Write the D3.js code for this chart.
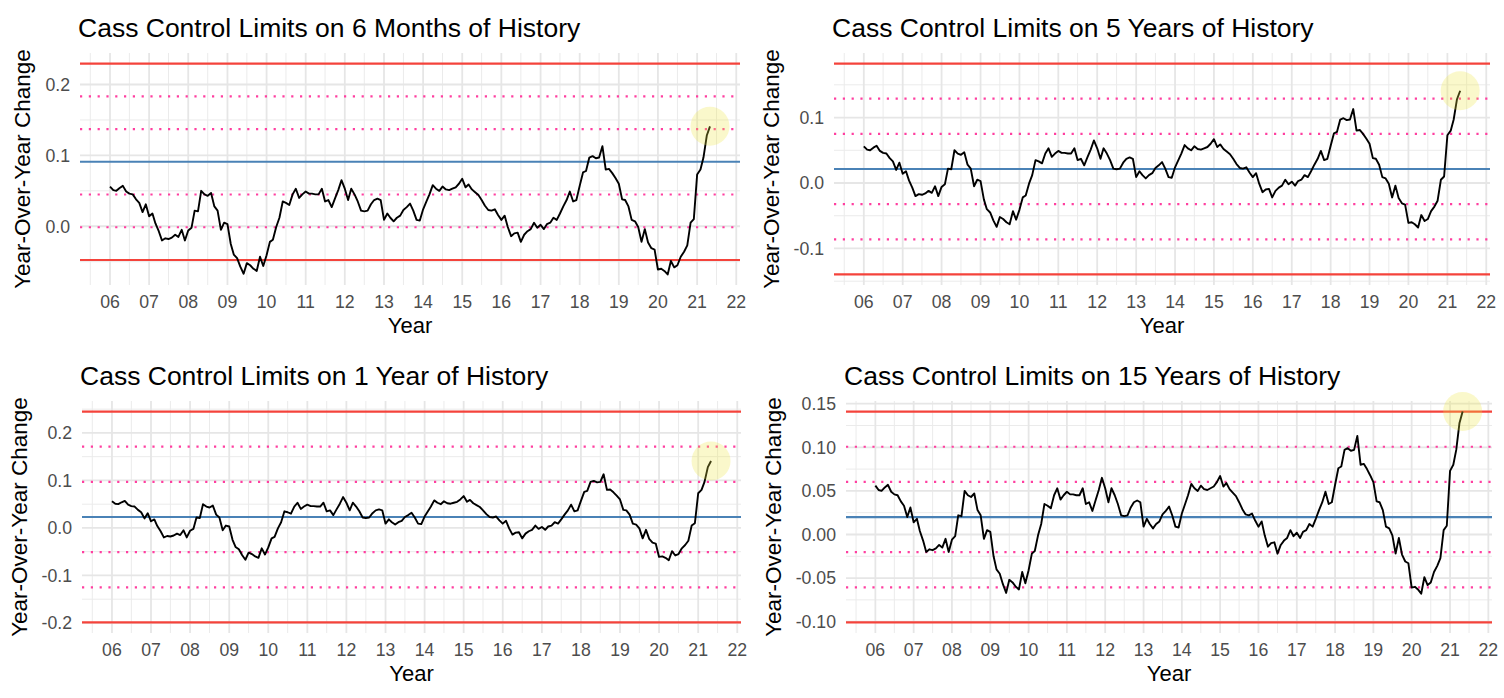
<!DOCTYPE html>
<html>
<head>
<meta charset="utf-8">
<script src="https://cdn.jsdelivr.net/npm/d3@7"></script>
<style>
  body { margin: 0; background: #fff; }
  svg { display: block; font-family: "Liberation Sans", Arial, Helvetica, sans-serif; }
</style>
</head>
<body>
<script>
// Cass shipments, year-over-year change, monthly from Jan 2006 to May 2021
const startDate = new Date(2006, 0, 1);
const yoy = [
  0.056, 0.051, 0.050, 0.054, 0.057, 0.049, 0.046, 0.045, 0.038, 0.033, 0.020, 0.031,
  0.014, 0.018, 0.004, -0.007, -0.020, -0.017, -0.018, -0.016, -0.012, -0.015, -0.005, -0.020,
  -0.006, -0.002, 0.022, 0.021, 0.050, 0.045, 0.043, 0.047, 0.028, 0.022, -0.005, 0.005,
  0.003, -0.025, -0.040, -0.045, -0.057, -0.067, -0.052, -0.055, -0.060, -0.063, -0.043, -0.056,
  -0.041, -0.022, -0.019, -0.001, 0.012, 0.035, 0.033, 0.030, 0.045, 0.053, 0.040, 0.045,
  0.049, 0.046, 0.046, 0.045, 0.045, 0.053, 0.035, 0.037, 0.027, 0.039, 0.051, 0.065,
  0.053, 0.037, 0.053, 0.045, 0.035, 0.022, 0.021, 0.022, 0.031, 0.037, 0.039, 0.037,
  0.009, 0.018, 0.012, 0.007, 0.012, 0.015, 0.023, 0.027, 0.032, 0.022, 0.009, 0.008,
  0.024, 0.035, 0.045, 0.058, 0.053, 0.050, 0.056, 0.052, 0.051, 0.053, 0.055, 0.060,
  0.067, 0.055, 0.059, 0.052, 0.048, 0.044, 0.037, 0.029, 0.023, 0.022, 0.024, 0.016,
  0.009, 0.015, -0.001, -0.014, -0.010, -0.009, -0.022, -0.012, -0.007, -0.004, 0.005, -0.002,
  0.002, -0.004, 0.003, 0.005, 0.012, 0.009, 0.018, 0.028, 0.037, 0.049, 0.035, 0.037,
  0.057, 0.076, 0.078, 0.097, 0.099, 0.096, 0.097, 0.113, 0.080, 0.081, 0.075, 0.068,
  0.060, 0.038, 0.037, 0.028, 0.009, 0.007, -0.001, -0.022, -0.004, -0.023, -0.031, -0.033,
  -0.061, -0.060, -0.063, -0.068, -0.049, -0.058, -0.055, -0.043, -0.036, -0.027, 0.005, 0.010,
  0.073, 0.080, 0.097, 0.128, 0.141
];

// one entry per panel: top-left, top-right, bottom-left, bottom-right
const titles = [
  "Cass Control Limits on 6 Months of History",
  "Cass Control Limits on 5 Years of History",
  "Cass Control Limits on 1 Year of History",
  "Cass Control Limits on 15 Years of History"
];
const means = [0.091, 0.0214, 0.023, 0.020];
const sds = [0.0462, 0.0537, 0.074, 0.0403];
const yTicks = [
  [0, 0.1, 0.2],
  [-0.1, 0, 0.1],
  [-0.2, -0.1, 0, 0.1, 0.2],
  [-0.10, -0.05, 0, 0.05, 0.10, 0.15]
];
const yTickLabels = [
  ["0.0", "0.1", "0.2"],
  ["-0.1", "0.0", "0.1"],
  ["-0.2", "-0.1", "0.0", "0.1", "0.2"],
  ["-0.10", "-0.05", "0.00", "0.05", "0.10", "0.15"]
];
const xYears = [2006, 2007, 2008, 2009, 2010, 2011, 2012, 2013, 2014, 2015, 2016, 2017, 2018, 2019, 2020, 2021, 2022];
const xTickLabels = ["06", "07", "08", "09", "10", "11", "12", "13", "14", "15", "16", "17", "18", "19", "20", "21", "22"];

const width = 1504;
const height = 698;

const panels = [
  { L: 80, R: 740, T: 53, B: 285 },
  { L: 834, R: 1490, T: 53, B: 285 },
  { L: 82, R: 741, T: 401, B: 633 },
  { L: 846, R: 1492, T: 401, B: 633 }
];

const svg = d3.select("body")
  .append("svg")
  .attr("width", width)
  .attr("height", height);

const series = yoy.map((v, i) => ({ date: d3.timeMonth.offset(startDate, i), value: v }));

panels.forEach((p, k) => {
  const g = svg.append("g");

  // control limits: mean and +-1, 2, 3 sd
  const limits = [-3, -2, -1, 0, 1, 2, 3].map(s => ({ s: s, y: means[k] + s * sds[k] }));

  // ggplot style 5% expansion
  const xe = d3.extent(series, d => d.date).map(d => +d);
  const xpad = (xe[1] - xe[0]) * 0.05;
  const x = d3.scaleTime()
    .domain([new Date(xe[0] - xpad), new Date(xe[1] + xpad)])
    .range([p.L, p.R]);

  const ye = d3.extent(yoy.concat(limits.map(l => l.y)));
  const ypad = (ye[1] - ye[0]) * 0.05;
  const y = d3.scaleLinear()
    .domain([ye[0] - ypad, ye[1] + ypad])
    .range([p.B, p.T]);

  // minor grid
  const step = yTicks[k][1] - yTicks[k][0];
  const yMinor = [yTicks[k][0] - step / 2].concat(yTicks[k].map(t => t + step / 2))
    .filter(v => v > y.domain()[0] && v < y.domain()[1]);
  const xMinor = [2005].concat(xYears).map(yr => new Date(yr, 6, 1))
    .filter(d => d > x.domain()[0] && d < x.domain()[1]);

  g.selectAll(".ymin").data(yMinor).enter().append("line")
    .attr("x1", p.L).attr("x2", p.R)
    .attr("y1", d => y(d)).attr("y2", d => y(d))
    .attr("stroke", "#ebebeb").attr("stroke-width", 1);
  g.selectAll(".xmin").data(xMinor).enter().append("line")
    .attr("x1", d => x(d)).attr("x2", d => x(d))
    .attr("y1", p.T).attr("y2", p.B)
    .attr("stroke", "#ebebeb").attr("stroke-width", 1);

  // major grid
  g.selectAll(".ymaj").data(yTicks[k]).enter().append("line")
    .attr("x1", p.L).attr("x2", p.R)
    .attr("y1", d => y(d)).attr("y2", d => y(d))
    .attr("stroke", "#e6e6e6").attr("stroke-width", 1.8);
  g.selectAll(".xmaj").data(xYears).enter().append("line")
    .attr("x1", d => x(new Date(d, 0, 1))).attr("x2", d => x(new Date(d, 0, 1)))
    .attr("y1", p.T).attr("y2", p.B)
    .attr("stroke", "#e6e6e6").attr("stroke-width", 1.8);

  // limit lines
  g.selectAll(".limit").data(limits).enter().append("line")
    .attr("x1", p.L).attr("x2", p.R)
    .attr("y1", d => y(d.y)).attr("y2", d => y(d.y))
    .attr("stroke", d => d.s === 0 ? "#4a82b6" : (Math.abs(d.s) === 3 ? "#f4433b" : "#ff3fa0"))
    .attr("stroke-width", 2.2)
    .attr("stroke-dasharray", d => Math.abs(d.s) === 1 || Math.abs(d.s) === 2 ? "2.2,6.6" : null);

  // data line
  const line = d3.line()
    .x(d => x(d.date))
    .y(d => y(d.value));
  g.append("path")
    .datum(series)
    .attr("fill", "none")
    .attr("stroke", "#000")
    .attr("stroke-width", 1.9)
    .attr("stroke-linejoin", "round")
    .attr("d", line);

  // highlight on the last point
  const last = series[series.length - 1];
  g.append("circle")
    .attr("cx", x(last.date))
    .attr("cy", y(last.value))
    .attr("r", 19.5)
    .attr("fill", "#ece63f")
    .attr("fill-opacity", 0.27);

  // y tick labels
  const ylabs = g.selectAll(".ylab").data(yTicks[k]).enter().append("text")
    .attr("x", p.L - 10)
    .attr("y", d => y(d))
    .attr("dy", "0.36em")
    .attr("text-anchor", "end")
    .attr("font-size", 17.7)
    .attr("fill", "#4d4d4d")
    .text((d, i) => yTickLabels[k][i]);

  // x tick labels
  g.selectAll(".xlab").data(xYears).enter().append("text")
    .attr("x", d => x(new Date(d, 0, 1)))
    .attr("y", p.B + 23)
    .attr("text-anchor", "middle")
    .attr("font-size", 17.7)
    .attr("fill", "#4d4d4d")
    .text((d, i) => xTickLabels[i]);

  // axis titles
  g.append("text")
    .attr("x", (p.L + p.R) / 2)
    .attr("y", p.B + 48)
    .attr("text-anchor", "middle")
    .attr("font-size", 22)
    .attr("fill", "#000")
    .text("Year");

  const labW = d3.max(ylabs.nodes(), n => n.getComputedTextLength());
  g.append("text")
    .attr("transform", `translate(${p.L - 10 - labW - 15},${(p.T + p.B) / 2}) rotate(-90)`)
    .attr("text-anchor", "middle")
    .attr("font-size", 22.5)
    .attr("fill", "#000")
    .text("Year-Over-Year Change");

  // title
  g.append("text")
    .attr("x", p.L - 2)
    .attr("y", p.T - 16)
    .attr("font-size", 26.5)
    .attr("fill", "#000")
    .text(titles[k]);
});
</script>
</body>
</html>
